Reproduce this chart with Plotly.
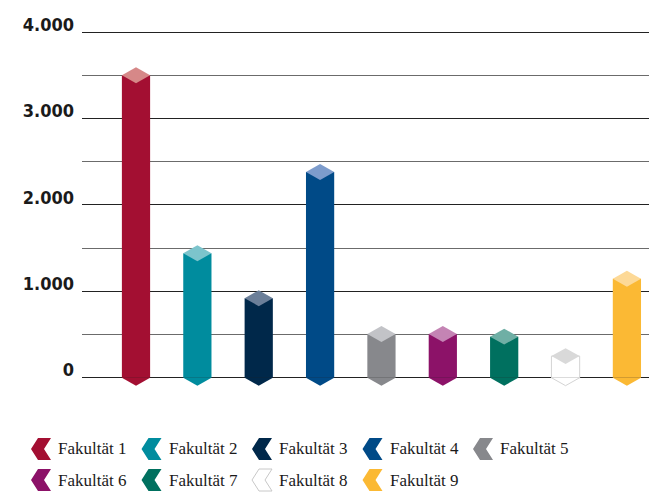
"""Students per faculty, drawn as faceted columns with a chevron legend."""

import plotly.graph_objects as go

# Data.
faculties = ["Fakultät 1", "Fakultät 2", "Fakultät 3", "Fakultät 4", "Fakultät 5",
             "Fakultät 6", "Fakultät 7", "Fakultät 8", "Fakultät 9"]
students = [3500, 1440, 920, 2380, 505, 505, 475, 250, 1145]

body_colors = ["#a30f32", "#008c9e", "#00284a", "#004a87", "#87888c",
               "#8c1268", "#00705f", "#ffffff", "#fbb934"]
cap_colors = ["#d68888", "#7cc4cc", "#6b7f99", "#7d9ccc", "#c2c3c7",
              "#c484b4", "#6fafa5", "#d9d9d9", "#fdd997"]
outline_colors = ["rgba(0,0,0,0)"] * 7 + ["#d4d4d4", "rgba(0,0,0,0)"]

y_tick_vals = [0, 1000, 2000, 3000, 4000]

# Geometry / layout constants.
BAR_W = 0.46     # column width, category units
FACET = 92       # half height of the top facet and the bottom point, data units
W, H = 649, 492
L, R, T, B = 82, 0, 31, 97
PW, PH = W - L - R, H - T - B


def px_x(x):
    return (x - L) / PW


def px_y(y):
    return (T + PH - y) / PH


xs = list(range(len(faculties)))

fig = go.Figure()

# Column bodies.
fig.add_trace(
    go.Bar(
        x=xs,
        y=students,
        width=BAR_W,
        marker=dict(color=body_colors,
                    line=dict(color=outline_colors, width=1)),
        hoverinfo="skip",
    )
)

# Pointed bottoms and diamond tops, built from the same values.
for i, v in enumerate(students):
    x0, x1 = i - BAR_W / 2, i + BAR_W / 2
    fig.add_trace(
        go.Scatter(
            x=[x0, i, x1],
            y=[0, -FACET, 0],
            mode="lines",
            fill="toself",
            fillcolor=body_colors[i],
            line=dict(width=1, color=outline_colors[i]),
            hoverinfo="skip",
        )
    )
    fig.add_trace(
        go.Scatter(
            x=[x0, i, x1, i],
            y=[v, v + FACET, v, v - FACET],
            mode="lines",
            fill="toself",
            fillcolor=cap_colors[i],
            line=dict(width=0),
            hoverinfo="skip",
        )
    )

# Hand-made legend: chevron icons plus serif labels, two rows.
chevron = "M-10,0L-3,11L10,11L3,0L10,-11L-3,-11Z"
for i, name in enumerate(faculties):
    row, col = divmod(i, 5)
    cx = 41 + col * 110.5
    cy = 449 + row * 31
    fig.add_shape(
        type="path",
        xref="paper", yref="paper",
        xsizemode="pixel", ysizemode="pixel",
        xanchor=px_x(cx), yanchor=px_y(cy),
        path=chevron,
        fillcolor=body_colors[i],
        line=dict(width=1 if body_colors[i] == "#ffffff" else 0,
                  color="#c8c8c8"),
    )
    fig.add_annotation(
        x=px_x(cx + 15), y=px_y(cy),
        xref="paper", yref="paper",
        xanchor="left", yanchor="middle",
        text=name, showarrow=False,
        font=dict(family="Liberation Serif", size=17, color="#1a1a1a"),
    )

fig.update_layout(
    width=W, height=H,
    margin=dict(l=L, r=R, t=T, b=B),
    paper_bgcolor="white",
    plot_bgcolor="white",
    showlegend=False,
    separators=",.",
    xaxis=dict(range=[-0.88, 8.36], showgrid=False, zeroline=False,
               showticklabels=False, fixedrange=True),
    yaxis=dict(
        range=[-200, 4012],
        tickvals=y_tick_vals,
        tickformat=",d",
        ticks="",
        ticklabelposition="outside top",
        ticklabelstandoff=7,
        ticklabelshift=5,
        tickfont=dict(family="DejaVu Sans Condensed, Liberation Sans Narrow, sans-serif",
                      size=18, color="#1a1a1a", weight="bold"),
        showgrid=True, gridcolor="#222222", gridwidth=1,
        zeroline=False,
        minor=dict(dtick=500, tick0=0, showgrid=True,
                   gridcolor="#6b6b6b", gridwidth=1),
        fixedrange=True,
    ),
)

# The page body has a default 8px margin; drop it so the figure fills the window.
fig.write_html(
    "out.html",
    config={"displayModeBar": False},
    post_script="document.body.style.margin = '0';",
)
